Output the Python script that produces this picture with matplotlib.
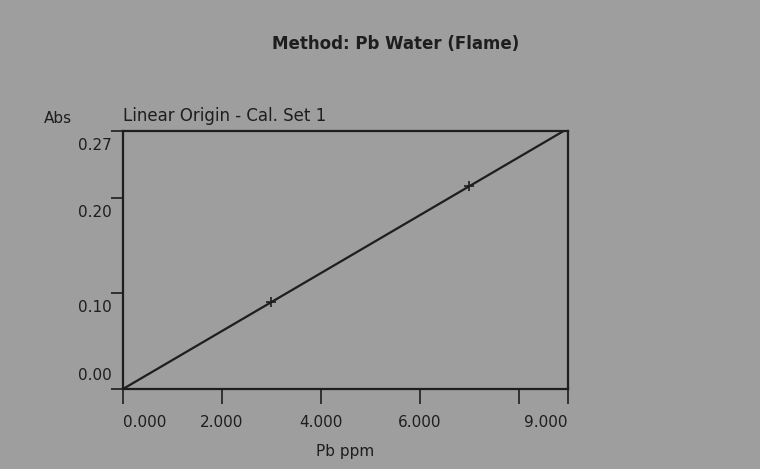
import numpy as np
import matplotlib
matplotlib.use("Agg")
import matplotlib.pyplot as plt
from matplotlib.transforms import ScaledTranslation

# calibration standards (Pb ppm, absorbance)
conc = [0.0, 3.0, 7.0]
absorb = [0.0, 0.091, 0.212]
x_ticks = [0, 2, 4, 6, 8, 9]
x_labels = ["0.000", "2.000", "4.000", "6.000", "", "9.000"]
y_ticks = [0.0, 0.10, 0.20, 0.27]
y_labels = ["0.00", "0.10", "0.20", "0.27"]

bg = "#9e9e9e"
ink = "#1e1e1e"
plt.rcParams["font.family"] = ["DejaVu Sans"]

fig = plt.figure(figsize=(7.6, 4.69), dpi=100, facecolor=bg)
ax = fig.add_axes([0.1618, 0.1706, 0.5855, 0.5501], facecolor=bg)

# linear fit through origin
x = np.array(conc)
y = np.array(absorb)
slope = np.sum(x * y) / np.sum(x * x)
xf = np.array([0.0, 9.0])
ax.plot(xf, slope * xf, color=ink, lw=1.6, solid_capstyle="butt")
ax.plot(conc, absorb, "+", color=ink, ms=7, mew=1.2)

ax.set_xlim(0, 9)
ax.set_ylim(0, 0.27)
for s in ax.spines.values():
    s.set_color(ink)
    s.set_linewidth(1.6)

ax.set_xticks(x_ticks)
ax.set_xticklabels(x_labels, fontsize=11, color=ink)
ax.set_yticks(y_ticks)
ax.set_yticklabels(y_labels, fontsize=11, color=ink)
ax.tick_params(axis="x", direction="out", length=11, width=1.2, color=ink, pad=8)
ax.tick_params(axis="y", direction="out", length=9, width=1.2, color=ink, pad=-1)

fig.canvas.draw()
xl = ax.get_xticklabels()
xl[0].set_horizontalalignment("left")
xl[-1].set_horizontalalignment("right")
# labels sit just under their ticks, the bottom one just above
for i, tick in enumerate(ax.yaxis.get_major_ticks()):
    dy = 15 if i == 0 else -13
    shift = ScaledTranslation(0, dy / 100, fig.dpi_scale_trans)
    tick.label1.set_transform(tick.label1.get_transform() + shift)

ax.set_xlabel("Pb ppm", fontsize=11, color=ink, labelpad=10)
fig.text(0.52, 0.907, "Method: Pb Water (Flame)", ha="center", va="center",
         fontsize=12, fontweight="bold", color=ink)
fig.text(0.076, 0.748, "Abs", ha="center", va="center", fontsize=11, color=ink)
fig.text(0.1618, 0.752, "Linear Origin - Cal. Set 1", ha="left", va="center",
         fontsize=12, color=ink)

fig.savefig("out.png", dpi=100, facecolor=bg)
